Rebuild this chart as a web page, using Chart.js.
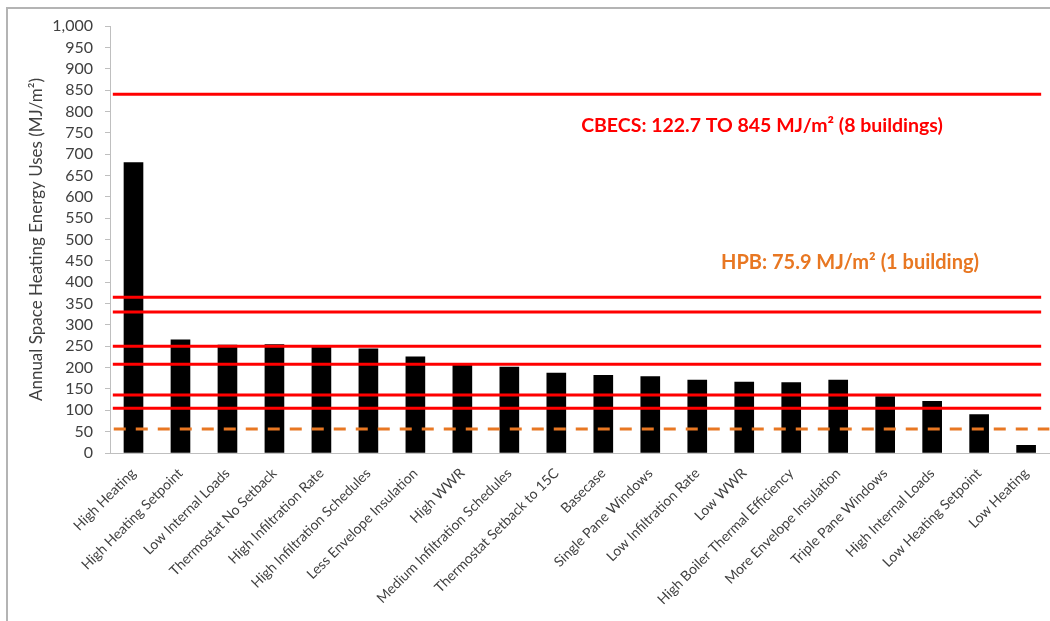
<!DOCTYPE html>
<html>
<head>
<meta charset="utf-8">
<title>Annual Space Heating Energy Uses</title>
<script src="https://cdn.jsdelivr.net/npm/chart.js@4.4.1/dist/chart.umd.min.js"></script>
<style>
  html, body { margin: 0; padding: 0; background: #fff; overflow: hidden; }
  #wrap { position: relative; width: 1050px; height: 621px; }
  #frame {
    position: absolute; left: 6px; top: 7px; width: 1100px; height: 700px;
    border-top: 2px solid #b4b4b4; border-left: 2px solid #b4b4b4;
  }
  #heatChart { position: absolute; left: 0; top: 0; }
</style>
</head>
<body>
<div id="wrap">
  <div id="frame"></div>
  <canvas id="heatChart" width="1050" height="621"></canvas>
</div>
<script>
const categories = [
  'High Heating', 'High Heating Setpoint', 'Low Internal Loads', 'Thermostat No Setback',
  'High Infiltration Rate', 'High Infiltration Schedules', 'Less Envelope Insulation', 'High WWR',
  'Medium Infiltration Schedules', 'Thermostat Setback to 15C', 'Basecase', 'Single Pane Windows',
  'Low Infiltration Rate', 'Low WWR', 'High Boiler Thermal Efficiency', 'More Envelope Insulation',
  'Triple Pane Windows', 'High Internal Loads', 'Low Heating Setpoint', 'Low Heating'
];
const heatingUse = [680, 265, 253, 254, 251, 244, 225, 207, 201, 187, 182, 179, 171, 166, 165, 171, 132, 121, 90, 18];

// reference buildings, drawn as horizontal lines across the plot
const cbecsBuildings = [840, 365, 330, 250, 208, 136, 105];
const hpbBuilding = 56;
const cbecsSpan = [0.003, 0.991];
const hpbSpan = [0.004, 1];

const yMin = 0;
const yMax = 1000;
const yStep = 50;

const cbecsLabel = 'CBECS: 122.7 TO 845 MJ/m\u00b2 (8 buildings)';
const hpbLabel = 'HPB: 75.9 MJ/m\u00b2 (1 building)';

const RED = '#ff0000';
const ORANGE = '#e87722';
const TEXT = '#404040';
const AXIS = '#bfbfbf';
const FONT = 'Lato, "Open Sans", sans-serif';

function refLine(value, span, color, dash) {
  return {
    type: 'line',
    xAxisID: 'x2',
    data: [{ x: span[0], y: value }, { x: span[1], y: value }],
    borderColor: color,
    borderWidth: 3,
    borderDash: dash || [],
    pointRadius: 0,
    fill: false,
    order: 1,
  };
}

const annotations = {
  id: 'annotations',
  afterDatasetsDraw(chart) {
    const { ctx } = chart;
    ctx.save();
    ctx.textAlign = 'center';
    ctx.textBaseline = 'middle';
    ctx.font = 'bold 19.5px ' + FONT;
    ctx.fillStyle = RED;
    ctx.fillText(cbecsLabel, 762, 126);
    ctx.font = 'bold 20px ' + FONT;
    ctx.fillStyle = ORANGE;
    ctx.fillText(hpbLabel, 850, 263);
    ctx.restore();
  },
};

function initChart() {
  const canvas = document.getElementById('heatChart');
  if (!canvas || typeof Chart === 'undefined') return;

  const datasets = [
    {
      type: 'bar',
      data: heatingUse,
      backgroundColor: '#000',
      barThickness: 19,
      grouped: false,
      order: 2,
    },
  ];
  cbecsBuildings.forEach((v) => datasets.push(refLine(v, cbecsSpan, RED)));
  datasets.push(refLine(hpbBuilding, hpbSpan, ORANGE, [12, 10]));

  return new Chart(canvas, {
    type: 'bar',
    data: { labels: categories, datasets },
    options: {
      responsive: false,
      animation: false,
      devicePixelRatio: 1,
      layout: { padding: { top: 26, left: 0, right: 0, bottom: 0 } },
      plugins: {
        legend: { display: false },
        tooltip: { enabled: false },
      },
      scales: {
        x: {
          type: 'category',
          offset: true,
          grid: { display: false, drawTicks: false },
          border: { display: true, color: AXIS, width: 1 },
          ticks: {
            color: TEXT,
            font: { family: FONT, size: 14 },
            maxRotation: 45,
            minRotation: 45,
            autoSkip: false,
            padding: 12,
          },
          afterFit(scale) { scale.height = 621 - 453; },
        },
        x2: {
          type: 'linear',
          display: false,
          offset: false,
          grid: { offset: false },
          min: 0,
          max: 1,
        },
        y: {
          min: yMin,
          max: yMax,
          grid: { drawOnChartArea: false, drawTicks: true, tickLength: 5, color: AXIS },
          border: { display: true, color: AXIS, width: 1 },
          ticks: {
            stepSize: yStep,
            autoSkip: false,
            color: TEXT,
            font: { family: FONT, size: 16 },
            padding: 12,
            callback: (v) => v.toLocaleString('en-US'),
          },
          title: {
            display: true,
            text: 'Annual Space Heating Energy Uses (MJ/m\u00b2)',
            color: TEXT,
            font: { family: FONT, size: 17 },
            padding: { top: 26, bottom: 0 },
          },
          afterFit(scale) { scale.width = 110; },
        },
      },
    },
    plugins: [annotations],
  });
}

document.addEventListener('DOMContentLoaded', () => {
  initChart();
});
</script>
</body>
</html>
